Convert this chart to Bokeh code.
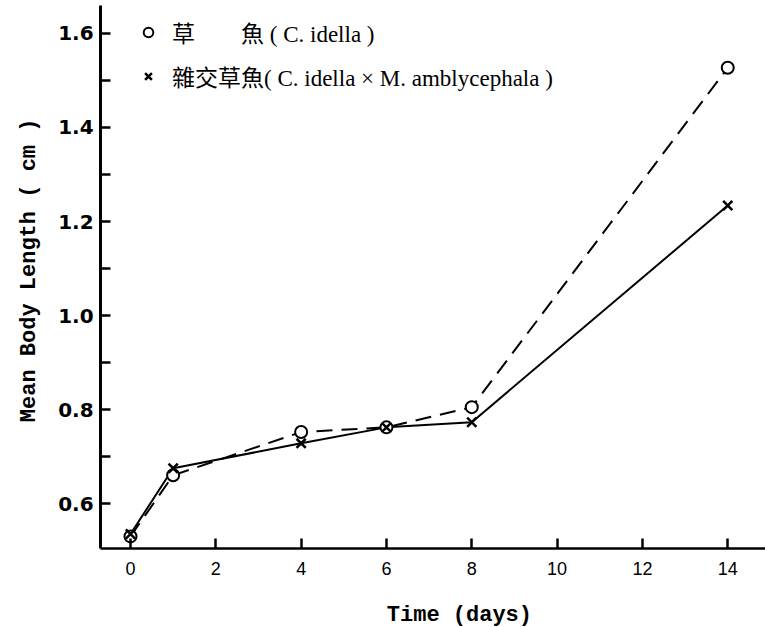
import math
from bokeh.plotting import figure
from bokeh.models import (Range1d, FixedTicker, PrintfTickFormatter, Legend, LegendItem,
                          Label, LinearAxis)
from bokeh.embed import file_html
from bokeh.resources import INLINE

# ---- data ----
days = [0, 1, 4, 6, 8, 14]
grass_carp = [0.530, 0.660, 0.752, 0.762, 0.805, 1.527]
hybrid = [0.535, 0.675, 0.728, 0.762, 0.773, 1.234]
x_ticks = [0, 2, 4, 6, 8, 10, 12, 14]
y_ticks = [0.6, 0.8, 1.0, 1.2, 1.4, 1.6]
y_minor = [0.7, 0.9, 1.1, 1.3, 1.5]
label_a = "草　　魚 ( C. idella )"
label_b = "雜交草魚( C. idella × M. amblycephala )"
x_title = "Time (days)"
y_title = "Mean Body Length ( cm )"

# ---- layout constants (axis origin / extent in data units) ----
X0, X1 = -0.70, 14.885      # x-axis line extent
Y0, Y1 = 0.504, 1.66        # y-axis line extent

p = figure(width=765, height=627, output_backend="svg", toolbar_location=None,
           x_range=Range1d(-3.047, 14.885), y_range=Range1d(0.3362, 1.6702),
           x_axis_location=None, y_axis_location=None,
           min_border_left=0, min_border_right=0, min_border_top=0, min_border_bottom=0)
p.outline_line_color = None
p.grid.visible = False
p.background_fill_color = "white"
p.border_fill_color = "white"

p.line(days, grass_carp, line_dash="16 9", line_width=2, color="black")
p.line(days, hybrid, line_width=2, color="black")
r1 = p.scatter(days, grass_carp, marker="circle", size=12, fill_color="white",
               line_color="black", line_width=2)
r2 = p.scatter(days, hybrid, marker="x", size=13, line_color="black", line_width=2.5)

# x axis
xa = LinearAxis(fixed_location=Y0, bounds=(X0, X1))
xa.ticker = FixedTicker(ticks=x_ticks)
xa.major_tick_in = 10
xa.major_tick_out = 0
xa.minor_tick_in = 0
xa.minor_tick_out = 0
xa.axis_line_width = 2.5
xa.major_tick_line_width = 2.5
xa.axis_line_color = "black"
xa.major_tick_line_color = "black"
xa.major_label_text_font = "Liberation Sans"
xa.major_label_text_font_size = "18px"
xa.major_label_text_color = "black"
xa.major_label_standoff = 13
p.add_layout(xa, "below")

# y axis
ya = LinearAxis(fixed_location=X0, bounds=(Y0, Y1))
ya.ticker = FixedTicker(ticks=y_ticks, minor_ticks=y_minor)
ya.formatter = PrintfTickFormatter(format="%.1f")
ya.major_tick_in = 10
ya.major_tick_out = 0
ya.minor_tick_in = 10
ya.minor_tick_out = 0
ya.axis_line_width = 3
ya.major_tick_line_width = 2.5
ya.minor_tick_line_width = 2.5
ya.axis_line_color = "black"
ya.major_tick_line_color = "black"
ya.minor_tick_line_color = "black"
ya.major_label_text_font = "DejaVu Sans"
ya.major_label_text_font_style = "bold"
ya.major_label_text_font_size = "20px"
ya.major_label_text_color = "black"
ya.major_label_standoff = 7
p.add_layout(ya, "left")

# axis titles
p.add_layout(Label(x=7.71, y=0.362, text=x_title,
                   text_align="center", text_baseline="middle",
                   text_font="Liberation Mono", text_font_style="bold",
                   text_font_size="22px", text_color="black"))
p.add_layout(Label(x=-2.37, y=1.096, text=y_title, angle=math.pi / 2,
                   text_align="center", text_baseline="middle",
                   text_font="Liberation Mono", text_font_style="bold",
                   text_font_size="22px", text_color="black"))

legend = Legend(items=[LegendItem(label=label_a, renderers=[r1]),
                       LegendItem(label=label_b, renderers=[r2])],
                location=(136, 534), padding=0, margin=0, spacing=10,
                glyph_width=24, glyph_height=24, label_standoff=12,
                label_text_font="'Liberation Serif', 'Noto Sans CJK TC'",
                label_text_font_size="23px", label_text_color="black",
                border_line_color=None, background_fill_alpha=0)
p.add_layout(legend)

open("out.html", "w").write(file_html(p, INLINE))
